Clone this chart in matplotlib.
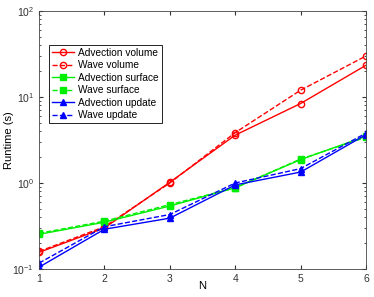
import numpy as np
import matplotlib
matplotlib.use('Agg')
import matplotlib.pyplot as plt

plt.rcParams['font.family'] = ['Liberation Sans', 'DejaVu Sans']

N = [1, 2, 3, 4, 5, 6]
adv_volume = [0.156, 0.30, 1.02, 3.6, 8.4, 23.4]
wave_volume = [0.16, 0.31, 1.0, 3.85, 12.0, 30.0]
adv_surface = [0.253, 0.35, 0.54, 0.88, 1.87, 3.5]
wave_surface = [0.26, 0.36, 0.56, 0.88, 1.9, 3.4]
adv_update = [0.105, 0.29, 0.39, 0.95, 1.34, 3.65]
wave_update = [0.117, 0.31, 0.43, 1.0, 1.47, 3.8]

fig = plt.figure(figsize=(3.74, 2.97), dpi=100)
ax = fig.add_axes([39/374, 1 - 269/297, 327/374, 258/297])

ax.plot(N, adv_volume, '-', color='red', marker='o', mfc='none', ms=4.5, lw=1.0, label='Advection volume')
ax.plot(N, wave_volume, '--', color='red', marker='o', mfc='none', ms=4.5, lw=1.0, label='Wave volume')
ax.plot(N, adv_surface, '-', color='#00ee00', marker='s', ms=4, lw=1.0, label='Advection surface')
ax.plot(N, wave_surface, '--', color='#00ee00', marker='s', ms=4, lw=1.0, label='Wave surface')
ax.plot(N, adv_update, '-', color='blue', marker='^', ms=5, lw=1.0, label='Advection update')
ax.plot(N, wave_update, '--', color='blue', marker='^', ms=5, lw=1.0, label='Wave update')

ax.set_yscale('log')
ax.set_xlim(1, 6)
ax.set_ylim(0.1, 100)
ax.set_xticks(N)
ax.tick_params(which='both', direction='in', top=True, right=True, labelsize=7.5, colors='#333333')
ax.tick_params(which='major', length=3)
ax.tick_params(which='minor', length=1.5)
for s in ax.spines.values():
    s.set_linewidth(0.6)
    s.set_color('#444444')
ax.set_xlabel('N', fontsize=8)
ax.set_ylabel('Runtime (s)', fontsize=8)
ax.xaxis.set_label_coords(0.5, -0.045)
ax.yaxis.set_label_coords(-0.075, 0.5)

leg = ax.legend(loc='upper left', bbox_to_anchor=(0.03, 0.87), fontsize=7.3, numpoints=1,
                fancybox=False, edgecolor='black', framealpha=1, handlelength=2.2,
                handletextpad=0.4, borderpad=0.3, labelspacing=0.25, borderaxespad=0)
leg.get_frame().set_linewidth(0.6)

fig.savefig('out.png', dpi=100)
